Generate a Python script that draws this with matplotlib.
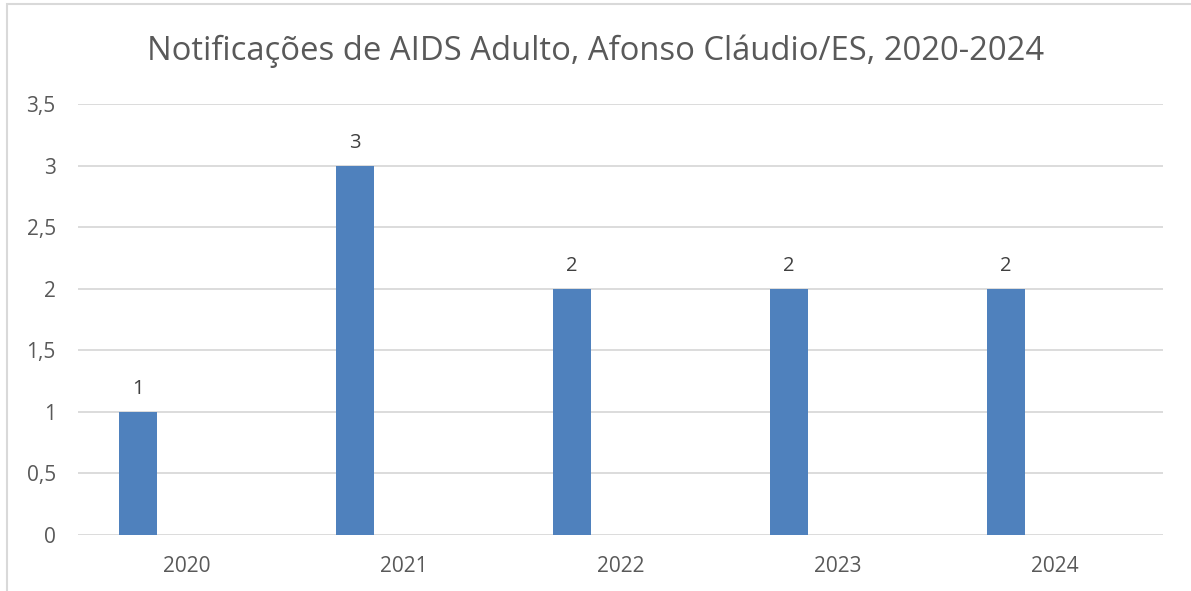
import matplotlib.pyplot as plt
import numpy as np

anos = ['2020', '2021', '2022', '2023', '2024']
casos = [1, 3, 2, 2, 2]
rotulos_y = ['0', '0,5', '1', '1,5', '2', '2,5', '3', '3,5']

plt.rcParams['font.family'] = ['Open Sans', 'DejaVu Sans']
cinza = '#595959'

fig = plt.figure(figsize=(11.91, 5.91), dpi=100)
ax = fig.add_axes([78 / 1191, 1 - 535 / 591, (1163 - 78) / 1191, (535 - 104) / 591])

x = np.arange(len(anos))
barras = ax.bar(x - 0.2235, casos, width=0.175, color='#4F81BD', zorder=3)
ax.bar_label(barras, padding=9, fontsize=14.5, color='#404040')

ax.set_xlim(-0.5, len(anos) - 0.5)
ax.set_ylim(0, 3.5)
ax.set_xticks(x, anos)
ax.set_yticks(np.arange(0, 3.51, 0.5), rotulos_y)
ax.tick_params(length=0, labelsize=15, colors=cinza)
ax.tick_params(axis='x', pad=15)
ax.tick_params(axis='y', pad=16)
ax.grid(axis='y', color='#d9d9d9', lw=1.3, zorder=0)
for s in ax.spines.values():
    s.set_visible(False)

fig.text(0.5, 1 - 51 / 591, 'Notificações de AIDS Adulto, Afonso Cláudio/ES, 2020-2024',
         ha='center', va='center', fontsize=23.6, color=cinza)

# moldura do gráfico
fig.patches.append(plt.Rectangle((7 / 1191, -0.05), 1.1, 1 - 4 / 591 + 0.05,
                                 transform=fig.transFigure, fill=False,
                                 edgecolor='#d9d9d9', lw=1.5))

fig.savefig('out.png', dpi=100)
